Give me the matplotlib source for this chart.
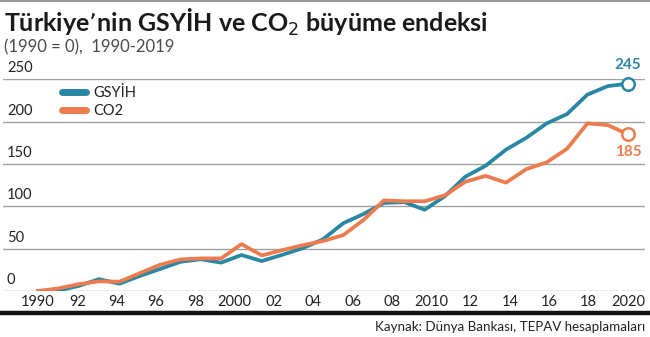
import numpy as np
import matplotlib
matplotlib.use("Agg")
import matplotlib.pyplot as plt
from matplotlib.lines import Line2D
import matplotlib.transforms as mtransforms

# ---- data ----
years = list(range(1990, 2020))
gsyih = [0, 0.5, 6, 14, 8.6, 17.7, 26, 34.5, 37.5, 33.5,
         42.5, 35.4, 42.7, 50.5, 61, 80, 91, 104, 105, 96,
         112, 135, 148, 167, 181, 198, 209, 232, 242, 245]
co2 = [0, 3, 8, 11.4, 11, 21, 31, 37.3, 38.5, 38.5,
       55.4, 42, 48.3, 54, 59, 66, 84, 107, 106, 106,
       113, 129, 136, 128, 144, 152, 168, 198, 196, 185]
yticks = [0, 50, 100, 150, 200, 250]
xticks = list(range(1990, 2021, 2))
xlabels = ['1990', '92', '94', '96', '98', '2000', '02', '04', '06', '08',
           '2010', '12', '14', '16', '18', '2020']

TEAL = '#2a87a4'
ORANGE = '#ec7c4f'
FONT = 'Lato'

plt.rcParams['font.family'] = [FONT, 'DejaVu Sans']

fig = plt.figure(figsize=(6.5, 3.37), dpi=100)
ax = fig.add_axes([0.0046, 0.1365, 0.9877, 0.628])

# the original spreads 30 yearly points across the 1990-2020 axis
xpos = np.linspace(1990, 2020, len(years))

ax.plot(xpos, gsyih, color=TEAL, lw=2.7, solid_joinstyle='round', zorder=3)
ax.plot(xpos, co2, color=ORANGE, lw=2.7, solid_joinstyle='round', zorder=3)
ax.plot([xpos[-1]], [gsyih[-1]], 'o', ms=9, mfc='white', mec=TEAL, mew=1.8,
        clip_on=False, zorder=4)
ax.plot([xpos[-1]], [co2[-1]], 'o', ms=9, mfc='white', mec=ORANGE, mew=1.8,
        clip_on=False, zorder=4)
ax.annotate(f"{gsyih[-1]}", (xpos[-1], gsyih[-1]), xytext=(0, 8),
            textcoords='offset points', ha='center', va='bottom',
            color=TEAL, fontsize=11, fontweight='bold')
ax.annotate(f"{co2[-1]}", (xpos[-1], co2[-1]), xytext=(0, -8),
            textcoords='offset points', ha='center', va='top',
            color=ORANGE, fontsize=11, fontweight='bold')

ax.set_xlim(1988.22, 2020.86)
ax.set_ylim(0, 250)
for s in ax.spines.values():
    s.set_visible(False)
ax.set_yticks(yticks)
ax.set_yticklabels([])
ax.tick_params(axis='y', length=0)
ax.grid(axis='y', color='#a0a0a0', lw=1.0)
ax.set_axisbelow(True)
ax.set_xticks(xticks)
ax.set_xticklabels(xlabels, fontsize=10.5, color='#222222')
ax.tick_params(axis='x', length=0, pad=3)

trans = mtransforms.blended_transform_factory(ax.transAxes, ax.transData) + \
    mtransforms.ScaledTranslation(0, 3 / 72, fig.dpi_scale_trans)
for v in yticks:
    ax.text(0.006, v, str(v), transform=trans, ha='left', va='bottom',
            fontsize=10.5, color='#222222')

# legend
handles = [Line2D([], [], color=TEAL, lw=5, solid_capstyle='round'),
           Line2D([], [], color=ORANGE, lw=5, solid_capstyle='round')]
leg = ax.legend(handles, ['GSYİH', 'CO2'], loc='upper left',
                bbox_to_anchor=(0.072, 1.03), frameon=False, fontsize=10.5,
                handlelength=1.6, handletextpad=0.5, labelspacing=0.25,
                labelcolor='#222222')

# title & subtitle
fig.text(0.006, 0.905, 'Türkiye’nin GSYİH ve CO$_2$ büyüme endeksi',
         fontsize=18, fontweight='bold', color='#1a1a1a', ha='left',
         va='baseline')
fig.text(0.006, 0.845, '(1990 = 0),  1990-2019', fontsize=12,
         fontweight='normal', color='#4a4a4a', ha='left', va='baseline')

# top rule and bottom rule
fig.add_artist(Line2D([0, 1], [0.996, 0.996], color='#9a9a9a', lw=1.5,
                      transform=fig.transFigure))
fig.add_artist(Line2D([0, 1], [0.071, 0.071], color='#111111', lw=3.2,
                      transform=fig.transFigure))
fig.text(0.993, 0.03, 'Kaynak: Dünya Bankası, TEPAV hesaplamaları',
         fontsize=9.6, color='#222222', ha='right', va='center')

fig.savefig('out.png', dpi=100)
